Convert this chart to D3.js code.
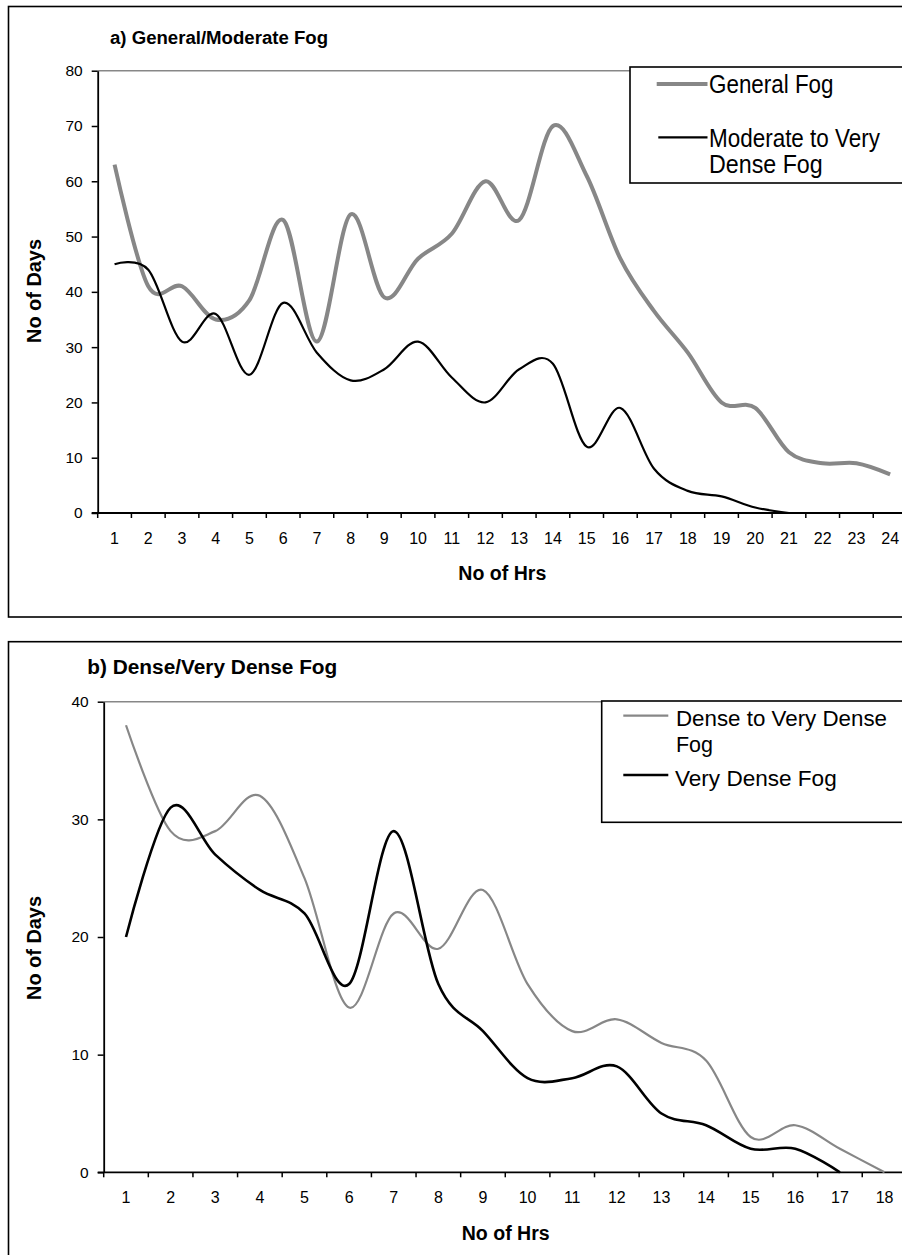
<!DOCTYPE html>
<html>
<head>
<meta charset="utf-8">
<script src="https://cdn.jsdelivr.net/npm/d3@7"></script>
<style>
  body { margin: 0; background: #fff; }
  text { font-family: "Liberation Sans", Arial, sans-serif; fill: #000; }
</style>
</head>
<body>
<script>
// size of the page
const width = 902;
const height = 1255;

// Panel a) categories (No of Hrs)
const hoursA = [1, 2, 3, 4, 5, 6, 7, 8, 9, 10, 11, 12, 13, 14, 15, 16, 17, 18, 19, 20, 21, 22, 23, 24];
// General Fog, days per hour count
const generalFog = [63, 41, 41, 35, 38.5, 53, 31, 54, 39, 46, 50.5, 60, 53, 70, 61, 46, 36.5, 29, 20, 19, 11, 9, 9, 7];
// Moderate to Very Dense Fog (stops at 21 hrs)
const moderateFog = [45, 44, 31, 36, 25, 38, 29, 24, 26, 31, 24.5, 20, 26, 27, 12, 19, 8, 4, 3, 1, 0];
const yTicksA = [0, 10, 20, 30, 40, 50, 60, 70, 80];

// Panel b) categories
const hoursB = [1, 2, 3, 4, 5, 6, 7, 8, 9, 10, 11, 12, 13, 14, 15, 16, 17, 18];
// Dense to Very Dense Fog
const denseFog = [38, 29, 29, 32, 25, 14, 22, 19, 24, 16, 12, 13, 11, 9.5, 3, 4, 2, 0];
// Very Dense Fog (stops at 17 hrs)
const veryDenseFog = [20, 31, 27, 24, 22, 16, 29, 16, 12, 8, 8, 9, 5, 4, 2, 2, 0];
const yTicksB = [0, 10, 20, 30, 40];

const grey = "#878787";

const svg = d3.select("body").append("svg")
    .attr("width", width)
    .attr("height", height);

// one panel: frame, title, axes, lines and legend
function drawPanel(p) {
    const g = svg.append("g");

    // outer frame (runs off the right side like the source)
    g.append("rect")
        .attr("x", 8.5).attr("y", p.frameTop)
        .attr("width", 930).attr("height", p.frameHeight)
        .attr("fill", "none").attr("stroke", "#000").attr("stroke-width", 1.6);

    const x = d3.scaleBand()
        .domain(p.hours)
        .range([p.left, p.left + p.hours.length * p.band]);
    const y = d3.scaleLinear()
        .domain([0, p.yMax])
        .range([p.bottom, p.top]);

    // grey plot border along the top
    g.append("line")
        .attr("x1", p.left).attr("x2", 940)
        .attr("y1", y(p.yMax)).attr("y2", y(p.yMax))
        .attr("stroke", grey).attr("stroke-width", 1.5);

    // y axis
    const yAxis = g.append("g")
        .attr("transform", `translate(${p.left},0)`)
        .call(d3.axisLeft(y).tickValues(p.yTicks).tickSize(6).tickSizeOuter(0).tickPadding(9));
    yAxis.select(".domain").attr("stroke", "#000").attr("stroke-width", 1.8);
    yAxis.selectAll(".tick line").attr("stroke-width", 1.5);
    yAxis.selectAll(".tick text")
        .style("font-family", "'Liberation Sans', Arial, sans-serif")
        .style("font-size", "15.5px");

    // x axis: labels centred in each band, tick marks on band edges
    const xAxis = g.append("g")
        .attr("transform", `translate(0,${p.bottom})`)
        .call(d3.axisBottom(x).tickSize(0).tickPadding(p.xLabelPad));
    xAxis.select(".domain").remove();
    xAxis.selectAll(".tick text")
        .style("font-family", "'Liberation Sans', Arial, sans-serif")
        .style("font-size", "16px");
    g.append("line")
        .attr("x1", p.left - 6).attr("x2", 940)
        .attr("y1", p.bottom).attr("y2", p.bottom)
        .attr("stroke", "#000").attr("stroke-width", 1.8);
    g.selectAll(".edge")
        .data(p.hours.concat([null]))
        .join("line")
        .attr("class", "edge")
        .attr("x1", (d, i) => p.left + i * x.bandwidth())
        .attr("x2", (d, i) => p.left + i * x.bandwidth())
        .attr("y1", p.bottom).attr("y2", p.bottom + 5)
        .attr("stroke", "#000").attr("stroke-width", 1.5);

    // smoothed lines like the spreadsheet
    const line = d3.line()
        .x((d, i) => x(p.hours[i]) + x.bandwidth() / 2)
        .y(d => y(d))
        .curve(d3.curveCatmullRom.alpha(0));

    p.series.forEach(s => {
        g.append("path")
            .datum(s.values)
            .attr("d", line)
            .attr("fill", "none")
            .attr("stroke", s.color)
            .attr("stroke-width", s.width)
            .attr("stroke-linejoin", "round");
    });

    // titles
    g.append("text")
        .attr("x", p.titleX).attr("y", p.titleY)
        .attr("font-weight", "bold")
        .style("font-size", p.titleSize + "px")
        .attr("textLength", p.titleLen).attr("lengthAdjust", "spacingAndGlyphs")
        .text(p.title);

    g.append("text")
        .attr("x", p.xTitleX).attr("y", p.xTitleY)
        .attr("font-weight", "bold")
        .style("font-size", "20px")
        .attr("textLength", 88).attr("lengthAdjust", "spacingAndGlyphs")
        .text("No of Hrs");

    g.append("text")
        .attr("transform", `translate(33.5,${p.yTitleY}) rotate(-90)`)
        .attr("text-anchor", "middle")
        .attr("dominant-baseline", "central")
        .attr("font-weight", "bold")
        .style("font-size", "20px")
        .attr("textLength", 104).attr("lengthAdjust", "spacingAndGlyphs")
        .text("No of Days");

    // legend
    const lg = g.append("g");
    lg.append("rect")
        .attr("x", p.legend.x).attr("y", p.legend.y)
        .attr("width", 400).attr("height", p.legend.h)
        .attr("fill", "#fff").attr("stroke", "#000").attr("stroke-width", 1.6);
    p.legend.items.forEach((it, i) => {
        const s = p.series[i];
        lg.append("line")
            .attr("x1", it.lx1).attr("x2", it.lx2)
            .attr("y1", it.ly).attr("y2", it.ly)
            .attr("stroke", s.color).attr("stroke-width", s.width);
        it.lines.forEach(t => {
            lg.append("text")
                .attr("x", it.tx).attr("y", t.y)
                .style("font-size", p.legend.size + "px")
                .attr("textLength", t.len).attr("lengthAdjust", "spacingAndGlyphs")
                .text(t.text);
        });
    });
}

drawPanel({
    frameTop: 6.5, frameHeight: 610.5,
    hours: hoursA, band: 33.72, left: 97.7,
    yMax: 80, yTicks: yTicksA, top: 70.7, bottom: 513,
    xLabelPad: 20,
    title: "a) General/Moderate Fog", titleX: 110, titleY: 44.3, titleSize: 18, titleLen: 218,
    xTitleX: 458.3, xTitleY: 580, yTitleY: 291,
    series: [
        { values: generalFog, color: grey, width: 4 },
        { values: moderateFog, color: "#000", width: 2.2 }
    ],
    legend: {
        x: 630, y: 67, h: 116, size: 25,
        items: [
            { lx1: 656.7, lx2: 707.5, ly: 84, tx: 709, lines: [{ text: "General Fog", y: 93.3, len: 124.5 }] },
            { lx1: 658.3, lx2: 707.5, ly: 137.3, tx: 709, lines: [
                { text: "Moderate to Very", y: 147.3, len: 171 },
                { text: "Dense Fog", y: 173.3, len: 113.7 }] }
        ]
    }
});

drawPanel({
    frameTop: 641.7, frameHeight: 700,
    hours: hoursB, band: 44.62, left: 103.7,
    yMax: 40, yTicks: yTicksB, top: 701.7, bottom: 1172.3,
    xLabelPad: 19,
    title: "b) Dense/Very Dense Fog", titleX: 87.3, titleY: 674.3, titleSize: 20, titleLen: 250,
    xTitleX: 461.7, xTitleY: 1240, yTitleY: 948,
    series: [
        { values: denseFog, color: grey, width: 2.2 },
        { values: veryDenseFog, color: "#000", width: 2.6 }
    ],
    legend: {
        x: 601.7, y: 701, h: 121.3, size: 22,
        items: [
            { lx1: 623.3, lx2: 668.3, ly: 715.7, tx: 676, lines: [
                { text: "Dense to Very Dense", y: 725.7, len: 211 },
                { text: "Fog", y: 751.7, len: 37 }] },
            { lx1: 623.3, lx2: 668.3, ly: 775, tx: 675, lines: [{ text: "Very Dense Fog", y: 785.7, len: 161.7 }] }
        ]
    }
});
</script>
</body>
</html>
